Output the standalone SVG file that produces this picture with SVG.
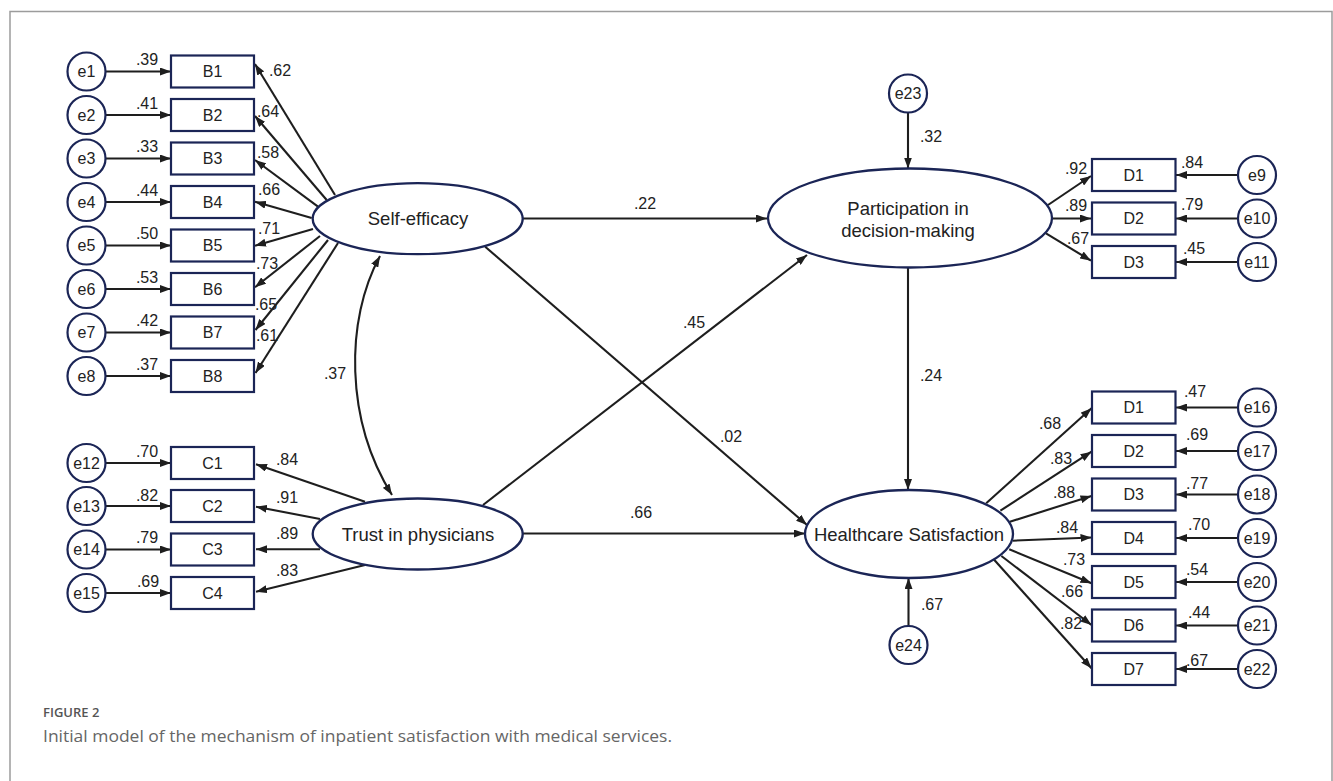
<svg xmlns="http://www.w3.org/2000/svg" width="1333" height="781" viewBox="0 0 1333 781">
<style>
.bg{fill:#fff}
.frame{fill:none;stroke:#9c9c9c;stroke-width:1.5}
.lat{fill:#fff;stroke:#1b2556;stroke-width:2.3}
.obs{fill:#fff;stroke:#1b2556;stroke-width:2.2}
.err{fill:#fff;stroke:#1b2556;stroke-width:2.2}
.c{fill:none;stroke:#1e1e1e;stroke-width:2.1;marker-end:url(#ah)}
.cc{fill:none;stroke:#1e1e1e;stroke-width:2.1;marker-end:url(#ah);marker-start:url(#ah)}
text{font-family:"Liberation Sans",Arial,sans-serif;fill:#222;text-anchor:middle;dominant-baseline:central}
.t{font-size:16px}
.lt{font-size:18.5px}
.lb{font-size:16px}
.cap1{font-family:"Open Sans","Noto Sans",sans-serif;font-size:13px;font-weight:600;fill:#555;text-anchor:start;dominant-baseline:auto}
.cap2{font-family:"Open Sans","Noto Sans",sans-serif;font-size:16.5px;fill:#666;text-anchor:start;dominant-baseline:auto}
</style>
<defs>
<marker id="ah" viewBox="0 0 11 8" refX="11" refY="4" markerWidth="11" markerHeight="8" markerUnits="userSpaceOnUse" orient="auto-start-reverse">
<path d="M0,0 L11,4 L0,8 z" fill="#1e1e1e"/>
</marker>
</defs>
<rect class="bg" x="0" y="0" width="1333" height="781"/>
<path class="frame" d="M10,782 V11.5 H1332 V782"/>

<g id="connectors">
<line class="c" x1="106" y1="71.5" x2="171" y2="71.5"/>
<line class="c" x1="106" y1="115" x2="171" y2="115"/>
<line class="c" x1="106" y1="158.5" x2="171" y2="158.5"/>
<line class="c" x1="106" y1="202" x2="171" y2="202"/>
<line class="c" x1="106" y1="245.5" x2="171" y2="245.5"/>
<line class="c" x1="106" y1="289" x2="171" y2="289"/>
<line class="c" x1="106" y1="332.5" x2="171" y2="332.5"/>
<line class="c" x1="106" y1="376" x2="171" y2="376"/>
<line class="c" x1="335" y1="195" x2="255" y2="64"/>
<line class="c" x1="326.7" y1="200" x2="255" y2="116"/>
<line class="c" x1="318" y1="206.7" x2="255" y2="160"/>
<line class="c" x1="311.7" y1="218" x2="255" y2="201.7"/>
<line class="c" x1="313" y1="229" x2="255" y2="245.7"/>
<line class="c" x1="320" y1="236" x2="255" y2="287.3"/>
<line class="c" x1="328" y1="240" x2="255.5" y2="330"/>
<line class="c" x1="338" y1="243" x2="255.5" y2="373"/>
<line class="c" x1="106" y1="463" x2="171" y2="463"/>
<line class="c" x1="106" y1="506" x2="171" y2="506"/>
<line class="c" x1="106" y1="549.5" x2="171" y2="549.5"/>
<line class="c" x1="106" y1="593" x2="171" y2="593"/>
<line class="c" x1="365" y1="501.7" x2="256" y2="464.3"/>
<line class="c" x1="320" y1="519" x2="256" y2="506.7"/>
<line class="c" x1="320" y1="549.3" x2="256" y2="549.3"/>
<line class="c" x1="365" y1="565" x2="256" y2="591.7"/>
<line class="c" x1="523" y1="218.5" x2="767" y2="218.5"/>
<line class="c" x1="485.2" y1="246.7" x2="807" y2="525"/>
<line class="c" x1="483" y1="505" x2="807" y2="255"/>
<line class="c" x1="523" y1="533.5" x2="805" y2="533.5"/>
<line class="c" x1="908" y1="267.5" x2="908" y2="490"/>
<line class="c" x1="908" y1="112.5" x2="908" y2="168.5"/>
<line class="c" x1="908.5" y1="626" x2="908.5" y2="578"/>
<path class="cc" d="M380,256 C345,320 345,420 392,495"/>
<line class="c" x1="1048" y1="205" x2="1091" y2="176"/>
<line class="c" x1="1052" y1="218.5" x2="1091" y2="218.5"/>
<line class="c" x1="1046" y1="233.3" x2="1091" y2="260.7"/>
<line class="c" x1="1238" y1="175" x2="1176" y2="175"/>
<line class="c" x1="1238" y1="218.5" x2="1176" y2="218.5"/>
<line class="c" x1="1238" y1="262" x2="1176" y2="262"/>
<line class="c" x1="986.2" y1="503.3" x2="1091.5" y2="408.3"/>
<line class="c" x1="1000.4" y1="510.7" x2="1091.5" y2="451.7"/>
<line class="c" x1="1009.9" y1="521.7" x2="1091.5" y2="496"/>
<line class="c" x1="1012.6" y1="540.7" x2="1091.5" y2="537.5"/>
<line class="c" x1="1009.2" y1="549.3" x2="1091.5" y2="583.3"/>
<line class="c" x1="1001.4" y1="556" x2="1091.5" y2="625"/>
<line class="c" x1="993.7" y1="559.3" x2="1091.5" y2="668.3"/>
<line class="c" x1="1238" y1="407.5" x2="1176" y2="407.5"/>
<line class="c" x1="1238" y1="451" x2="1176" y2="451"/>
<line class="c" x1="1238" y1="494.5" x2="1176" y2="494.5"/>
<line class="c" x1="1238" y1="538" x2="1176" y2="538"/>
<line class="c" x1="1238" y1="582" x2="1176" y2="582"/>
<line class="c" x1="1238" y1="625.5" x2="1176" y2="625.5"/>
<line class="c" x1="1238" y1="669" x2="1176" y2="669"/>
</g>

<g id="edge-labels">
<text class="lb" x="147" y="59">.39</text>
<text class="lb" x="147" y="103">.41</text>
<text class="lb" x="147" y="146">.33</text>
<text class="lb" x="147" y="190">.44</text>
<text class="lb" x="147" y="233">.50</text>
<text class="lb" x="147" y="277">.53</text>
<text class="lb" x="147" y="320">.42</text>
<text class="lb" x="147" y="364">.37</text>
<text class="lb" x="280" y="70">.62</text>
<text class="lb" x="268" y="111">.64</text>
<text class="lb" x="268" y="152">.58</text>
<text class="lb" x="269" y="189">.66</text>
<text class="lb" x="269" y="228">.71</text>
<text class="lb" x="267" y="263">.73</text>
<text class="lb" x="266" y="304">.65</text>
<text class="lb" x="267" y="335">.61</text>
<text class="lb" x="147" y="451">.70</text>
<text class="lb" x="147" y="495">.82</text>
<text class="lb" x="147" y="537">.79</text>
<text class="lb" x="148" y="581">.69</text>
<text class="lb" x="287" y="459">.84</text>
<text class="lb" x="287" y="497">.91</text>
<text class="lb" x="287" y="533">.89</text>
<text class="lb" x="287" y="570">.83</text>
<text class="lb" x="335" y="373">.37</text>
<text class="lb" x="645" y="203">.22</text>
<text class="lb" x="731" y="436">.02</text>
<text class="lb" x="694" y="322">.45</text>
<text class="lb" x="641" y="512">.66</text>
<text class="lb" x="931" y="375">.24</text>
<text class="lb" x="931" y="136">.32</text>
<text class="lb" x="932" y="604">.67</text>
<text class="lb" x="1076" y="168">.92</text>
<text class="lb" x="1076" y="205">.89</text>
<text class="lb" x="1078" y="238">.67</text>
<text class="lb" x="1192" y="162">.84</text>
<text class="lb" x="1192" y="204">.79</text>
<text class="lb" x="1194" y="248">.45</text>
<text class="lb" x="1050" y="423">.68</text>
<text class="lb" x="1061" y="458">.83</text>
<text class="lb" x="1064" y="492">.88</text>
<text class="lb" x="1067" y="527">.84</text>
<text class="lb" x="1074" y="559">.73</text>
<text class="lb" x="1072" y="591">.66</text>
<text class="lb" x="1071" y="623">.82</text>
<text class="lb" x="1195" y="391">.47</text>
<text class="lb" x="1197" y="434">.69</text>
<text class="lb" x="1197" y="483">.77</text>
<text class="lb" x="1199" y="524">.70</text>
<text class="lb" x="1197" y="569">.54</text>
<text class="lb" x="1199" y="612">.44</text>
<text class="lb" x="1197" y="660">.67</text>
</g>

<g id="self-efficacy"><ellipse class="lat" cx="417.7" cy="218.7" rx="105" ry="35.5"/><text class="lt" x="418" y="218.7">Self-efficacy</text></g>
<g id="trust"><ellipse class="lat" cx="417.7" cy="534" rx="105" ry="35.5"/><text class="lt" x="418" y="534">Trust in physicians</text></g>
<g id="participation"><ellipse class="lat" cx="910" cy="218" rx="142" ry="49.5"/><text class="lt" x="908" y="208">Participation in</text><text class="lt" x="908" y="230">decision-making</text></g>
<g id="satisfaction"><ellipse class="lat" cx="909" cy="534" rx="104" ry="44"/><text class="lt" x="909" y="534">Healthcare Satisfaction</text></g>

<g id="B1"><rect class="obs" x="171" y="55.5" width="83" height="32"/><text class="t" x="212.5" y="71.5">B1</text></g>
<g id="B2"><rect class="obs" x="171" y="99" width="83" height="32"/><text class="t" x="212.5" y="115">B2</text></g>
<g id="B3"><rect class="obs" x="171" y="142.5" width="83" height="32"/><text class="t" x="212.5" y="158.5">B3</text></g>
<g id="B4"><rect class="obs" x="171" y="186" width="83" height="32"/><text class="t" x="212.5" y="202">B4</text></g>
<g id="B5"><rect class="obs" x="171" y="229.5" width="83" height="32"/><text class="t" x="212.5" y="245.5">B5</text></g>
<g id="B6"><rect class="obs" x="171" y="273" width="83" height="32"/><text class="t" x="212.5" y="289">B6</text></g>
<g id="B7"><rect class="obs" x="171" y="316.5" width="83" height="32"/><text class="t" x="212.5" y="332.5">B7</text></g>
<g id="B8"><rect class="obs" x="171" y="360" width="83" height="32"/><text class="t" x="212.5" y="376">B8</text></g>
<g id="C1"><rect class="obs" x="171" y="447" width="83" height="32"/><text class="t" x="212.5" y="463">C1</text></g>
<g id="C2"><rect class="obs" x="171" y="490" width="83" height="32"/><text class="t" x="212.5" y="506">C2</text></g>
<g id="C3"><rect class="obs" x="171" y="533.5" width="83" height="32"/><text class="t" x="212.5" y="549.5">C3</text></g>
<g id="C4"><rect class="obs" x="171" y="577" width="83" height="32"/><text class="t" x="212.5" y="593">C4</text></g>
<g id="D1a"><rect class="obs" x="1092" y="159" width="83.5" height="32"/><text class="t" x="1133.7" y="175">D1</text></g>
<g id="D2a"><rect class="obs" x="1092" y="202.5" width="83.5" height="32"/><text class="t" x="1133.7" y="218.5">D2</text></g>
<g id="D3a"><rect class="obs" x="1092" y="246" width="83.5" height="32"/><text class="t" x="1133.7" y="262">D3</text></g>
<g id="D1b"><rect class="obs" x="1092" y="391.5" width="83.5" height="32"/><text class="t" x="1133.7" y="407.5">D1</text></g>
<g id="D2b"><rect class="obs" x="1092" y="435" width="83.5" height="32"/><text class="t" x="1133.7" y="451">D2</text></g>
<g id="D3b"><rect class="obs" x="1092" y="478.5" width="83.5" height="32"/><text class="t" x="1133.7" y="494.5">D3</text></g>
<g id="D4b"><rect class="obs" x="1092" y="522" width="83.5" height="32"/><text class="t" x="1133.7" y="538">D4</text></g>
<g id="D5b"><rect class="obs" x="1092" y="566" width="83.5" height="32"/><text class="t" x="1133.7" y="582">D5</text></g>
<g id="D6b"><rect class="obs" x="1092" y="609.5" width="83.5" height="32"/><text class="t" x="1133.7" y="625.5">D6</text></g>
<g id="D7b"><rect class="obs" x="1092" y="653" width="83.5" height="32"/><text class="t" x="1133.7" y="669">D7</text></g>

<g id="e1"><circle class="err" cx="86.5" cy="71.5" r="19"/><text class="t" x="86.5" y="71.5">e1</text></g>
<g id="e2"><circle class="err" cx="86.5" cy="115" r="19"/><text class="t" x="86.5" y="115">e2</text></g>
<g id="e3"><circle class="err" cx="86.5" cy="158.5" r="19"/><text class="t" x="86.5" y="158.5">e3</text></g>
<g id="e4"><circle class="err" cx="86.5" cy="202" r="19"/><text class="t" x="86.5" y="202">e4</text></g>
<g id="e5"><circle class="err" cx="86.5" cy="245.5" r="19"/><text class="t" x="86.5" y="245.5">e5</text></g>
<g id="e6"><circle class="err" cx="86.5" cy="289" r="19"/><text class="t" x="86.5" y="289">e6</text></g>
<g id="e7"><circle class="err" cx="86.5" cy="332.5" r="19"/><text class="t" x="86.5" y="332.5">e7</text></g>
<g id="e8"><circle class="err" cx="86.5" cy="376" r="19"/><text class="t" x="86.5" y="376">e8</text></g>
<g id="e12"><circle class="err" cx="86.5" cy="463" r="19"/><text class="t" x="86.5" y="463">e12</text></g>
<g id="e13"><circle class="err" cx="86.5" cy="506" r="19"/><text class="t" x="86.5" y="506">e13</text></g>
<g id="e14"><circle class="err" cx="86.5" cy="549.5" r="19"/><text class="t" x="86.5" y="549.5">e14</text></g>
<g id="e15"><circle class="err" cx="86.5" cy="593" r="19"/><text class="t" x="86.5" y="593">e15</text></g>
<g id="e23"><circle class="err" cx="908" cy="93.5" r="19"/><text class="t" x="908" y="93.5">e23</text></g>
<g id="e24"><circle class="err" cx="908.5" cy="645" r="19"/><text class="t" x="908.5" y="645">e24</text></g>
<g id="e9"><circle class="err" cx="1257" cy="175" r="19"/><text class="t" x="1257" y="175">e9</text></g>
<g id="e10"><circle class="err" cx="1257" cy="218.5" r="19"/><text class="t" x="1257" y="218.5">e10</text></g>
<g id="e11"><circle class="err" cx="1257" cy="262" r="19"/><text class="t" x="1257" y="262">e11</text></g>
<g id="e16"><circle class="err" cx="1257" cy="407.5" r="19"/><text class="t" x="1257" y="407.5">e16</text></g>
<g id="e17"><circle class="err" cx="1257" cy="451" r="19"/><text class="t" x="1257" y="451">e17</text></g>
<g id="e18"><circle class="err" cx="1257" cy="494.5" r="19"/><text class="t" x="1257" y="494.5">e18</text></g>
<g id="e19"><circle class="err" cx="1257" cy="538" r="19"/><text class="t" x="1257" y="538">e19</text></g>
<g id="e20"><circle class="err" cx="1257" cy="582" r="19"/><text class="t" x="1257" y="582">e20</text></g>
<g id="e21"><circle class="err" cx="1257" cy="625.5" r="19"/><text class="t" x="1257" y="625.5">e21</text></g>
<g id="e22"><circle class="err" cx="1257" cy="669" r="19"/><text class="t" x="1257" y="669">e22</text></g>

<g id="caption">
<text class="cap1" x="43" y="717">FIGURE 2</text>
<text class="cap2" x="43" y="742" textLength="629" lengthAdjust="spacingAndGlyphs">Initial model of the mechanism of inpatient satisfaction with medical services.</text>
</g>
</svg>
